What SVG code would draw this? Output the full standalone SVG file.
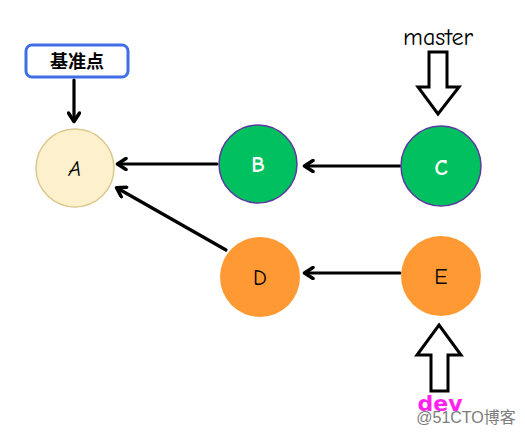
<svg xmlns="http://www.w3.org/2000/svg" width="525" height="434" viewBox="0 0 525 434">
<defs>
<marker id="ah" markerWidth="14" markerHeight="14" refX="10" refY="7" orient="auto" markerUnits="userSpaceOnUse" viewBox="0 0 14 14">
<path d="M2,1.5 L10.5,7 L2,12.5" fill="none" stroke="#000" stroke-width="3.5" stroke-linecap="round" stroke-linejoin="round"/>
</marker>
<style>
.conn{stroke:#000;stroke-width:3.2;fill:none;stroke-linecap:round;marker-end:url(#ah)}
.lbl{font-family:"Comic Neue","DejaVu Sans",sans-serif;font-size:22px;text-anchor:middle}
.hollow{fill:#fff;stroke:#000;stroke-width:3;stroke-linejoin:miter}
</style>
</defs>
<rect width="525" height="434" fill="#fff"/>
<g id="connectors">
<line class="conn" x1="217" y1="164" x2="118" y2="164"/>
<line class="conn" x1="400" y1="166" x2="305" y2="166"/>
<line class="conn" x1="226" y1="250" x2="117" y2="188"/>
<line class="conn" x1="400" y1="273" x2="305" y2="273"/>
<line class="conn" x1="74" y1="80" x2="74" y2="121"/>
</g>
<g id="label-base">
<rect x="26" y="45" width="102" height="32" rx="6" fill="#fff" stroke="#3f6fe6" stroke-width="3"/>
<text x="77" y="68" font-family="'Noto Sans CJK SC',sans-serif" font-size="18" font-weight="bold" text-anchor="middle" fill="#000">基准点</text>
</g>
<g id="node-A">
<circle cx="75" cy="168" r="39" fill="#fdf0cc" stroke="#d9c98f" stroke-width="1.5"/>
<text class="lbl" x="75" y="176" fill="#000" font-style="italic">A</text>
</g>
<g id="node-B">
<circle cx="258" cy="164" r="39" fill="#00c060" stroke="#5b3aa0" stroke-width="1.5"/>
<text class="lbl" x="258" y="172" fill="#fff" font-weight="bold">B</text>
</g>
<g id="node-C">
<circle cx="441" cy="166" r="40" fill="#00c060" stroke="#5b3aa0" stroke-width="1.5"/>
<text class="lbl" x="441" y="175" fill="#fff" font-weight="bold">C</text>
</g>
<g id="node-D">
<circle cx="260" cy="277" r="40" fill="#ff9933"/>
<text class="lbl" x="260" y="285" fill="#000">D</text>
</g>
<g id="node-E">
<circle cx="441" cy="276" r="40" fill="#ff9933"/>
<text class="lbl" x="441" y="284" fill="#000">E</text>
</g>
<g id="master">
<text x="438" y="45" font-family="'Comic Neue','DejaVu Sans',sans-serif" font-size="24" text-anchor="middle" fill="#000">master</text>
<path class="hollow" d="M429,52 L447,52 L447,87 L459,87 L438,114 L418,87 L429,87 Z"/>
</g>
<g id="dev">
<path class="hollow" d="M439,325 L461,355 L448,355 L448,391 L431,391 L431,355 L417,355 Z"/>
<text x="440" y="411" font-family="'DejaVu Sans',sans-serif" font-size="22" font-weight="bold" text-anchor="middle" fill="#ff22ee">dev</text>
</g>
<text x="466" y="423" font-family="'Liberation Sans','Noto Sans CJK SC',sans-serif" font-size="16" text-anchor="middle" fill="#666" opacity="0.85">@51CTO博客</text>
</svg>
